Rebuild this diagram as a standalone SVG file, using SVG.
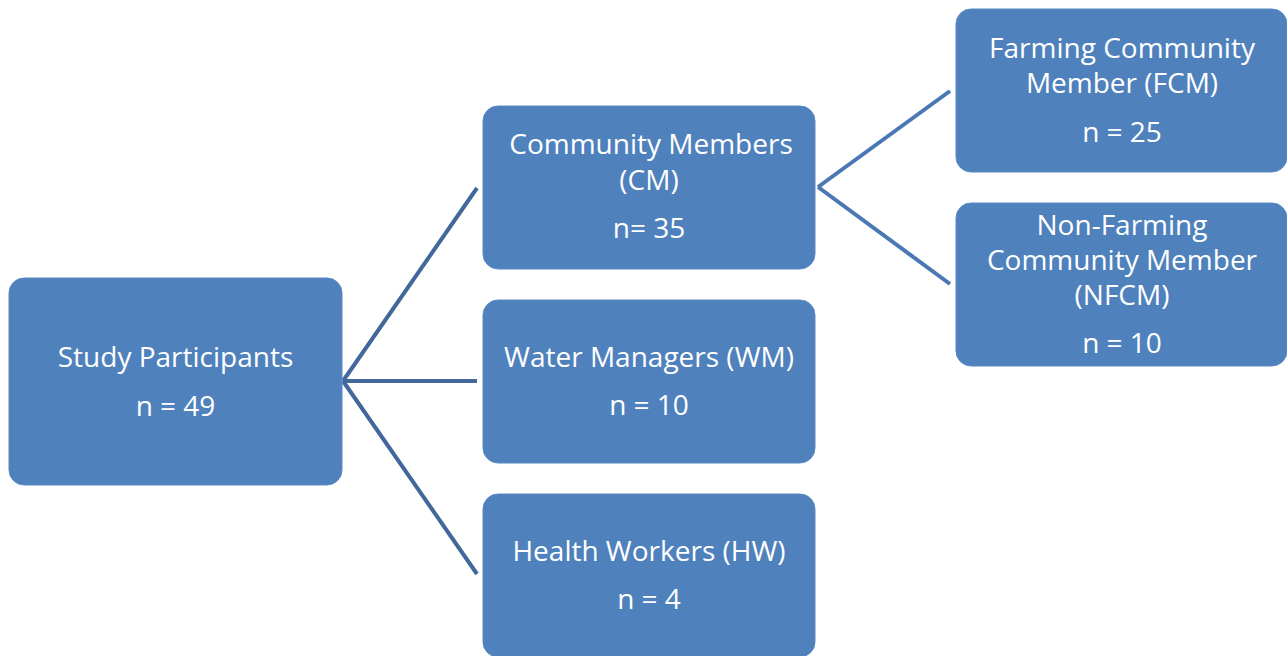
<svg xmlns="http://www.w3.org/2000/svg" width="1287" height="656" viewBox="0 0 1287 656">
  <style>
    .box { fill: #4f81bd; stroke: #5a8ac4; stroke-width: 1; }
    .lbl { font-family: "Open Sans", "Liberation Sans", sans-serif; font-size: 28px; fill: #ffffff; text-anchor: middle; }
    .link-l { stroke: #41679b; stroke-width: 4; fill: none; }
    .link-r { stroke: #4a78b4; stroke-width: 4; fill: none; }
  </style>
  <rect width="1287" height="656" fill="#ffffff"/>

  <g id="connectors">
    <line class="link-l" x1="343" y1="381" x2="477" y2="188"/>
    <line class="link-l" x1="343" y1="381" x2="477" y2="381"/>
    <line class="link-l" x1="343" y1="381" x2="477" y2="574"/>
    <line class="link-r" x1="818" y1="187" x2="950" y2="91"/>
    <line class="link-r" x1="818" y1="187" x2="950" y2="284"/>
  </g>

  <g id="study-participants">
    <rect class="box" x="9" y="278" width="333" height="207" rx="15"/>
    <text class="lbl" x="175.5" y="367">Study Participants</text>
    <text class="lbl" x="175.5" y="416">n = 49</text>
  </g>

  <g id="community-members">
    <rect class="box" x="483" y="106" width="332" height="163" rx="15"/>
    <text class="lbl" x="651" y="154">Community Members</text>
    <text class="lbl" x="649" y="190">(CM)</text>
    <text class="lbl" x="649" y="238">n= 35</text>
  </g>

  <g id="water-managers">
    <rect class="box" x="483" y="300" width="332" height="163" rx="15"/>
    <text class="lbl" x="649" y="367">Water Managers (WM)</text>
    <text class="lbl" x="649" y="415">n = 10</text>
  </g>

  <g id="health-workers">
    <rect class="box" x="483" y="494" width="332" height="163" rx="15"/>
    <text class="lbl" x="649" y="561">Health Workers (HW)</text>
    <text class="lbl" x="649" y="609">n = 4</text>
  </g>

  <g id="farming-community-member">
    <rect class="box" x="956" y="9" width="331" height="163" rx="15"/>
    <text class="lbl" x="1122" y="58">Farming Community</text>
    <text class="lbl" x="1122" y="93">Member (FCM)</text>
    <text class="lbl" x="1122" y="142">n = 25</text>
  </g>

  <g id="non-farming-community-member">
    <rect class="box" x="956" y="203" width="331" height="163" rx="15"/>
    <text class="lbl" x="1122" y="235">Non-Farming</text>
    <text class="lbl" x="1122" y="270">Community Member</text>
    <text class="lbl" x="1122" y="305">(NFCM)</text>
    <text class="lbl" x="1122" y="353">n = 10</text>
  </g>
</svg>
